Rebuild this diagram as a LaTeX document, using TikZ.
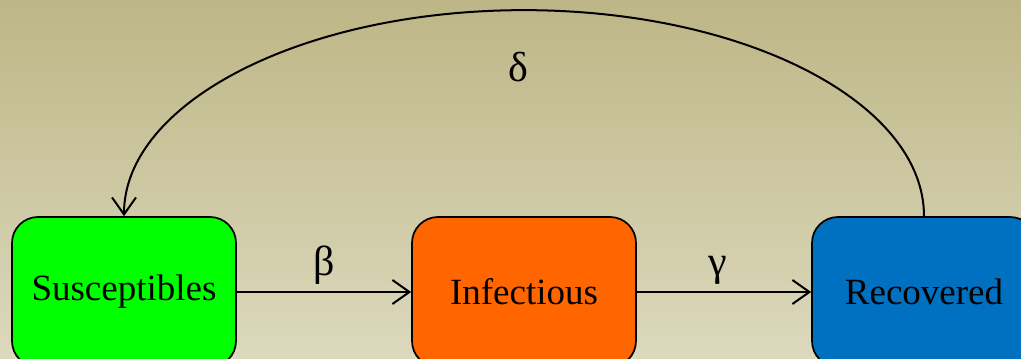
\documentclass[tikz,border=0pt]{standalone}
\usepackage{fontspec}
\setmainfont{Liberation Serif}
\usetikzlibrary{arrows.meta}
\definecolor{bgtop}{HTML}{BDB686}
\definecolor{bgbot}{HTML}{DCD9BD}
\definecolor{sgreen}{HTML}{00FF00}
\definecolor{iorange}{HTML}{FF6600}
\definecolor{rblue}{HTML}{0070C0}
\tikzset{
  compartment/.style={draw=black, line width=1.7pt, rounded corners=26pt, minimum width=224pt, minimum height=150pt, inner sep=0pt, font=\fontsize{37}{42}\selectfont},
  flow/.style={line width=2pt, -{Straight Barb[length=17pt,width=24pt,line width=2pt]}},
  rate/.style={font=\fontsize{42}{48}\selectfont}
}
\begin{document}
\begin{tikzpicture}[x=1pt,y=1pt]
\useasboundingbox (0,0) rectangle (1021,359);
\clip (0,0) rectangle (1021,359);
\shade[top color=bgtop, bottom color=bgbot] (0,0) rectangle (1021,359);
\node[compartment, fill=sgreen] (sus) at (124,67) {Susceptibles};
\node[compartment, fill=iorange] (inf) at (524,67) {Infectious};
\node[compartment, fill=rblue] (rec) at (924,67) {Recovered};
\draw[flow] (sus.east) -- node[rate, above=3pt] (beta) {β} (inf.west);
\draw[flow] (inf.east) -- node[rate, above=3pt, xshift=-6pt] (gamma) {γ} (rec.west);
\draw[flow] (rec.north) arc[start angle=0, end angle=180, x radius=400, y radius=206];
\node[rate] (delta) at (518,292) {δ};
\end{tikzpicture}
\end{document}
